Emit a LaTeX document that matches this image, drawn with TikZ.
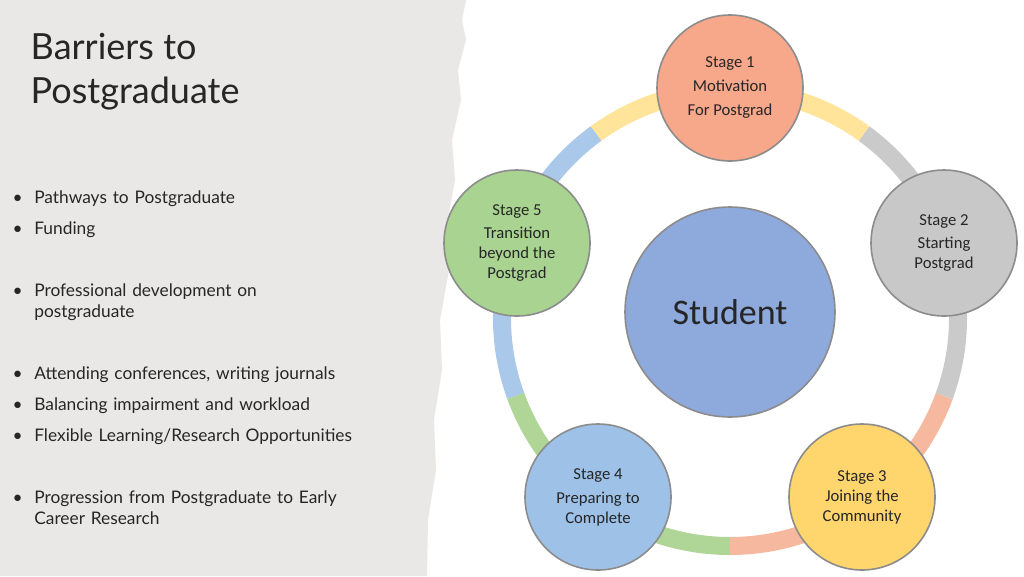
\documentclass[tikz,border=0pt]{standalone}
\usepackage{fontspec}
\setmainfont{Lato}
\newfontfamily\calfont{Carlito}
\definecolor{panel}{HTML}{E9E8E6}
\definecolor{txt}{HTML}{262626}
\definecolor{sOne}{HTML}{F7A88A}
\definecolor{sTwo}{HTML}{C8C8C8}
\definecolor{sThree}{HTML}{FFD56E}
\definecolor{sFour}{HTML}{9EC1E8}
\definecolor{sFive}{HTML}{A8D390}
\definecolor{stud}{HTML}{8EA9DC}
\definecolor{rOne}{HTML}{F6B9A0}
\definecolor{rTwo}{HTML}{CACACA}
\definecolor{rThree}{HTML}{FFE49A}
\definecolor{rFour}{HTML}{A9C8EA}
\definecolor{rFive}{HTML}{AFD597}
\begin{document}
\begin{tikzpicture}[x=0.75pt,y=-0.75pt,
  stage/.style={circle,draw=black!45,line width=1.2pt,minimum size=146*0.75pt,inner sep=0pt,align=center,font=\calfont\fontsize{12.5}{15}\selectfont,text=txt},
  bul/.style={anchor=north west,align=left,font=\fontsize{13}{15.5}\selectfont,text=txt,text width=290pt},
  ring/.style={line width=13.5pt}]
\useasboundingbox (0,0) rectangle (1024,576);
\fill[white] (0,0) rectangle (1024,576);
\fill[panel] (0,0) -- (466,0) -- (462,20) -- (466,40) -- (458,70) -- (461,100) -- (452,140) -- (455,180) -- (446,230) -- (449,270) -- (440,320) -- (442,370) -- (434,420) -- (436,470) -- (428,520) -- (427,576) -- (0,576) -- cycle;
\node[anchor=west,font=\fontsize{27}{33}\selectfont,text=txt,align=left] (title) at (26,72) {Barriers to\\Postgraduate};
\node[bul] (b1) at (8,186) {\textbullet\ \ Pathways to Postgraduate};
\node[bul] (b2) at (8,217) {\textbullet\ \ Funding};
\node[bul] (b3) at (8,279) {\textbullet\ \ Professional development on\\\hphantom{\textbullet\ \ }postgraduate};
\node[bul] (b4) at (8,362) {\textbullet\ \ Attending conferences, writing journals};
\node[bul] (b5) at (8,393) {\textbullet\ \ Balancing impairment and workload};
\node[bul] (b6) at (8,424) {\textbullet\ \ Flexible Learning/Research Opportunities};
\node[bul] (b7) at (8,486) {\textbullet\ \ Progression from Postgraduate to Early\\\hphantom{\textbullet\ \ }Career Research};
\coordinate (c) at (730,318);
\draw[ring,rOne] (c) ++(90:228) arc[start angle=90,end angle=20,radius=228];
\draw[ring,rTwo] (c) ++(20:228) arc[start angle=20,end angle=-54,radius=228];
\draw[ring,rThree] (c) ++(-54:228) arc[start angle=-54,end angle=-126,radius=228];
\draw[ring,rFour] (c) ++(-126:228) arc[start angle=-126,end angle=-200,radius=228];
\draw[ring,rFive] (c) ++(160:228) arc[start angle=160,end angle=90,radius=228];
\node[stage,fill=sOne] (s1) at (730,88) {Stage 1\\[3pt]Motivation\\[3pt]For Postgrad};
\node[stage,fill=sTwo] (s2) at (944,243) {Stage 2\\[2pt]Starting\\Postgrad};
\node[stage,fill=sThree] (s3) at (862,497) {Stage 3\\Joining the\\Community};
\node[stage,fill=sFour] (s4) at (598,497) {Stage 4\\[3pt]Preparing to\\Complete};
\node[stage,fill=sFive] (s5) at (517,243) {Stage 5\\[2pt]Transition\\beyond the\\Postgrad};
\node[circle,draw=black!45,line width=1.2pt,fill=stud,minimum size=210*0.75pt,font=\calfont\fontsize{27}{32}\selectfont,text=txt] (st) at (730,312) {Student};
\end{tikzpicture}
\end{document}
